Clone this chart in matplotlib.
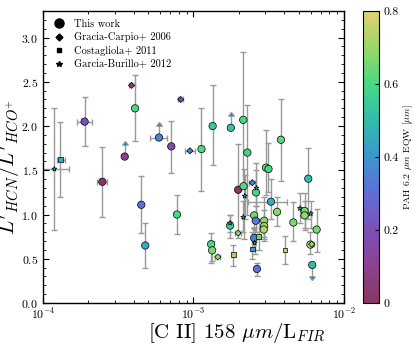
import numpy as np
import matplotlib
matplotlib.use("Agg")
import matplotlib.pyplot as plt
from matplotlib.colors import LinearSegmentedColormap
from matplotlib.lines import Line2D

plt.rcParams['font.family'] = 'serif'
plt.rcParams['font.serif'] = ['cmr10', 'DejaVu Serif']
plt.rcParams['mathtext.fontset'] = 'cm'
plt.rcParams['axes.formatter.use_mathtext'] = True

# --- This work (circles) ---
tw_x = [1.89e-4, 2.48e-4, 3.49e-4, 4.09e-4, 5.90e-4, 7.12e-4, 4.50e-4, 4.78e-4, 7.77e-4,
        1.13e-3, 1.34e-3, 1.77e-3, 2.14e-3, 2.28e-3, 3.03e-3, 3.15e-3, 3.81e-3, 3.27e-3,
        3.59e-3, 2.95e-3, 2.95e-3, 2.93e-3, 4.61e-3, 5.79e-3, 5.47e-3, 5.47e-3, 6.58e-3,
        5.98e-3, 6.15e-3, 1.98e-3, 2.15e-3, 2.60e-3, 1.75e-3, 2.53e-3, 2.59e-3, 2.53e-3,
        1.31e-3, 1.33e-3, 2.64e-3]
tw_y = [2.05, 1.37, 1.655, 2.20, 1.87, 1.77, 1.11, 0.65, 1.00,
        1.74, 2.00, 1.98, 2.07, 1.70, 1.53, 1.515, 1.845, 1.145,
        1.03, 0.93, 0.87, 0.83, 0.91, 1.405, 1.04, 0.99, 0.83,
        0.66, 0.43, 1.28, 1.32, 1.25, 0.875, 0.99, 0.93, 0.735,
        0.665, 0.595, 0.385]
tw_ylo = [1.77, 0.97, None, 1.83, None, 1.47, 0.79, 0.39, 0.78,
          1.27, 1.56, None, 1.30, 1.00, 1.22, 1.25, 1.38, 0.95,
          0.87, 0.75, 0.72, 0.70, 0.70, 0.95, 0.85, 0.82, 0.58,
          0.55, None, 0.74, 0.72, 0.95, 0.74, None, 0.80, 0.60,
          0.45, 0.48, 0.30]
tw_yhi = [2.33, 1.76, None, 2.58, None, 2.06, 1.44, 0.90, 1.22,
          2.20, 2.46, None, 2.84, 2.24, 1.95, 1.81, 2.31, 1.40,
          1.20, 1.20, 1.05, 0.95, 1.14, 1.75, 1.24, 1.15, 1.06,
          0.80, None, 1.80, 1.52, 1.58, 1.00, None, 1.10, 0.85,
          0.79, 0.70, 0.45]
tw_xlo = {0: 1.69e-4, 1: 2.29e-4, 4: 5.14e-4, 17: 2.30e-3}
tw_xhi = {0: 2.11e-4, 1: 2.66e-4, 4: 6.70e-4, 17: 4.16e-3}
tw_lower = [2, 4, 11]       # lower limits (arrow up)
tw_upper = [28, 33]         # upper limits (arrow down)
tw_c = [0.20, 0.02, 0.08, 0.60, 0.35, 0.15, 0.30, 0.45, 0.60,
        0.60, 0.55, 0.52, 0.60, 0.58, 0.62, 0.60, 0.62, 0.45,
        0.68, 0.68, 0.70, 0.72, 0.66, 0.50, 0.66, 0.68, 0.66,
        0.72, 0.50, 0.00, 0.62, 0.60, 0.55, 0.65, 0.33, 0.33,
        0.60, 0.66, 0.32]

# --- Gracia-Carpio+ 2006 (diamonds) ---
gc_x = [3.88e-4, 8.22e-4, 9.47e-4, 2.46e-3, 1.98e-3, 1.45e-3, 6.10e-3]
gc_y = [2.46, 2.30, 1.72, 1.36, 0.79, 0.52, 0.665]
gc_xlo = [3.70e-4, 7.90e-4, 8.78e-4, 2.35e-3, 1.90e-3, 1.40e-3, 5.90e-3]
gc_xhi = [4.06e-4, 8.55e-4, 1.02e-3, 2.57e-3, 2.06e-3, 1.50e-3, 6.30e-3]
gc_c = [0.05, 0.15, 0.35, 0.35, 0.68, 0.70, 0.70]

# --- Costagliola+ 2011 (squares) ---
co_x = [1.30e-4, 2.71e-3, 2.46e-3, 1.84e-3, 4.05e-3]
co_y = [1.62, 0.755, 0.61, 0.545, 0.60]
co_ylo = [1.20, 0.60, 0.50, 0.42, 0.44]
co_yhi = [2.05, 0.95, 0.80, 0.66, 0.76]
co_xlo = [1.23e-4, 2.71e-3, 2.46e-3, 1.84e-3, 4.05e-3]
co_xhi = [1.39e-4, 2.71e-3, 2.46e-3, 1.84e-3, 4.05e-3]
co_c = [0.45, 0.65, 0.40, 0.70, 0.75]

# --- Garcia-Burillo+ 2012 (stars) ---
gb_x = [1.19e-4, 2.62e-3, 2.19e-3, 1.75e-3, 2.14e-3, 2.55e-3, 5.10e-3, 6.01e-3]
gb_y = [1.515, 1.30, 1.21, 0.905, 0.97, 0.68, 1.07, 1.01]
gb_ylo = [0.82, 1.10, 0.95, 0.80, 0.80, 0.55, 0.90, 0.85]
gb_yhi = [2.20, 1.50, 1.45, 1.00, 1.15, 0.80, 1.24, 1.15]
gb_xlo = [8.5e-5, 2.62e-3, 2.19e-3, 1.75e-3, 2.14e-3, 2.55e-3, 5.10e-3, 6.01e-3]
gb_xhi = [1.50e-4, 2.62e-3, 2.19e-3, 1.75e-3, 2.14e-3, 2.55e-3, 5.10e-3, 6.01e-3]
gb_c = [0.45, 0.50, 0.45, 0.50, 0.50, 0.50, 0.55, 0.55]

cmap = LinearSegmentedColormap.from_list('pah', [
    (0.000, '#873760'), (0.125, '#8c4190'), (0.250, '#7d50b9'), (0.375, '#5f6ed8'),
    (0.500, '#3c96cd'), (0.625, '#32bcaa'), (0.750, '#46d884'), (0.875, '#9ad866'),
    (1.000, '#e2d270')])

fig = plt.figure(figsize=(4.15, 3.43), dpi=100)
ax = fig.add_axes([0.1036, 0.1166, 0.7253, 0.8513])
cax = fig.add_axes([0.875, 0.1166, 0.038, 0.8513])

ecol = '0.6'
ekw = dict(fmt='none', ecolor=ecol, elinewidth=1, capsize=2, capthick=1, zorder=1)

# error bars: this work
for i in range(len(tw_x)):
    xe = None
    if i in tw_xlo:
        xe = [[tw_x[i] - tw_xlo[i]], [tw_xhi[i] - tw_x[i]]]
    if i in tw_lower:
        ax.errorbar(tw_x[i], tw_y[i], yerr=0.13, lolims=True, xerr=xe, **ekw)
    elif i in tw_upper:
        ax.errorbar(tw_x[i], tw_y[i], yerr=0.13, uplims=True, xerr=xe, **ekw)
    else:
        ye = [[tw_y[i] - tw_ylo[i]], [tw_yhi[i] - tw_y[i]]]
        ax.errorbar(tw_x[i], tw_y[i], yerr=ye, xerr=xe, **ekw)

gc_x_a, gc_y_a = np.array(gc_x), np.array(gc_y)
ax.errorbar(gc_x_a, gc_y_a, xerr=[gc_x_a - np.array(gc_xlo), np.array(gc_xhi) - gc_x_a], **ekw)

co_x_a, co_y_a = np.array(co_x), np.array(co_y)
ax.errorbar(co_x_a, co_y_a,
            yerr=[co_y_a - np.array(co_ylo), np.array(co_yhi) - co_y_a],
            xerr=[co_x_a - np.array(co_xlo), np.array(co_xhi) - co_x_a], **ekw)

gb_x_a, gb_y_a = np.array(gb_x), np.array(gb_y)
ax.errorbar(gb_x_a, gb_y_a,
            yerr=[gb_y_a - np.array(gb_ylo), np.array(gb_yhi) - gb_y_a],
            xerr=[gb_x_a - np.array(gb_xlo), np.array(gb_xhi) - gb_x_a], **ekw)

skw = dict(cmap=cmap, vmin=0, vmax=0.8, edgecolors='k', linewidths=0.5, zorder=3)
sc = ax.scatter(tw_x, tw_y, c=tw_c, marker='o', s=28, **skw)
ax.scatter(gc_x, gc_y, c=gc_c, marker='D', s=10, **skw)
ax.scatter(co_x, co_y, c=co_c, marker='s', s=12, **skw)
ax.scatter(gb_x, gb_y, c=gb_c, marker='*', s=14, **skw)

ax.set_xscale('log')
ax.set_xlim(1e-4, 1e-2)
ax.set_ylim(0, 3.3)
ax.set_yticks([0.0, 0.5, 1.0, 1.5, 2.0, 2.5, 3.0])
ax.set_yticks(np.arange(0, 3.31, 0.1), minor=True)
ax.tick_params(which='both', direction='in', top=True, right=True, labelsize=8.5)
ax.tick_params(which='major', length=4)
ax.tick_params(which='minor', length=2)
ax.tick_params(axis='x', pad=2.5)
for s in ax.spines.values():
    s.set_linewidth(1)

ax.set_xlabel(r'[C II] 158 $\mu m$/L$_{FIR}$', fontsize=15)
ax.xaxis.set_label_coords(0.645, -0.06, transform=ax.transAxes)
ax.xaxis.label.set_va('top')
ax.set_ylabel(r"$L'_{HCN}/L'_{HCO^{+}}$", fontsize=15)
ax.yaxis.set_label_coords(-0.066, 0.465, transform=ax.transAxes)

handles = [
    Line2D([], [], marker='o', color='k', ls='none', markersize=6.5),
    Line2D([], [], marker='D', color='k', ls='none', markersize=3.5),
    Line2D([], [], marker='s', color='k', ls='none', markersize=3.5),
    Line2D([], [], marker='*', color='k', ls='none', markersize=4),
]
labels = ['This work', 'Gracia-Carpio+ 2006', 'Costagliola+ 2011', 'Garcia-Burillo+ 2012']
ax.legend(handles, labels, loc='upper left', frameon=False, fontsize=7.5,
          handletextpad=0.7, labelspacing=0.35, borderaxespad=0.4, handlelength=1.5)

cb = fig.colorbar(sc, cax=cax, ticks=[0, 0.2, 0.4, 0.6, 0.8], format='%g')
cb.ax.tick_params(labelsize=8.5, direction='in', length=3)
cb.set_label(r'PAH 6.2 $\mu m$ EQW [$\mu m$]', fontsize=7)
cb.ax.yaxis.set_label_coords(2.45, 0.5, transform=cb.ax.transAxes)

fig.savefig('out.png', dpi=100)
